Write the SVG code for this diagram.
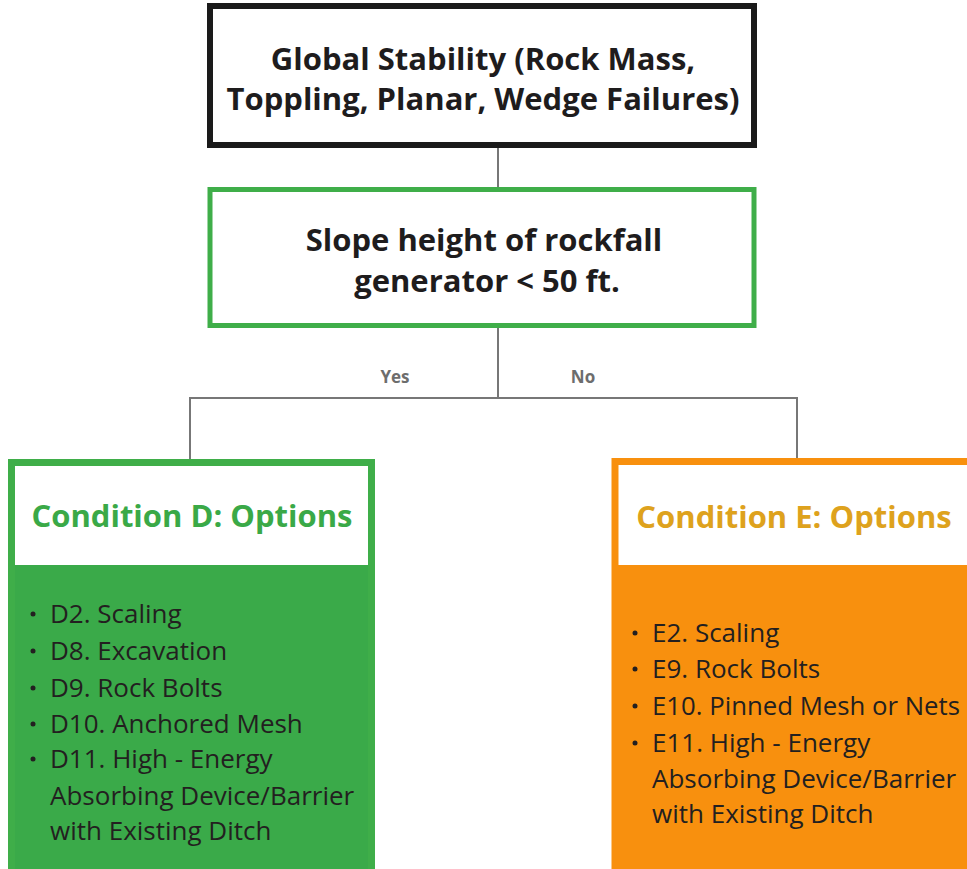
<svg xmlns="http://www.w3.org/2000/svg" width="967" height="869" viewBox="0 0 967 869">
<style>
.t{font-family:"Open Sans","Noto Sans","Liberation Sans",sans-serif;}
.title{font-weight:700;font-size:31px;fill:#1e1c1d;text-anchor:middle;}
.head{font-weight:700;font-size:31px;text-anchor:middle;}
.item{font-size:26px;fill:#231f20;}
.lab{font-weight:700;font-size:17px;fill:#6d6d6d;text-anchor:middle;}
.conn{stroke:#777;stroke-width:2;fill:none;}
</style>
<rect width="967" height="869" fill="#ffffff"/>
<g id="connectors">
<line class="conn" x1="498" y1="148" x2="498" y2="187"/>
<line class="conn" x1="498" y1="328" x2="498" y2="398"/>
<polyline class="conn" points="190,459 190,398 797,398 797,458"/>
<text class="t lab" x="395" y="383">Yes</text>
<text class="t lab" x="583" y="383">No</text>
</g>
<g id="global">
<rect x="210" y="6" width="544" height="139" fill="#fff" stroke="#1a1a1a" stroke-width="6"/>
<text class="t title" x="483" y="70">Global Stability (Rock Mass,</text>
<text class="t title" x="483" y="110">Toppling, Planar, Wedge Failures)</text>
</g>
<g id="slope">
<rect x="210" y="189.5" width="544" height="136" fill="#fff" stroke="#3fae49" stroke-width="5"/>
<text class="t title" x="484" y="251">Slope height of rockfall</text>
<text class="t title" x="487" y="292">generator &lt; 50 ft.</text>
</g>
<g id="conditionD">
<rect x="11.5" y="462.5" width="360" height="420" fill="#3aaa49" stroke="#3fae49" stroke-width="7"/>
<rect x="15" y="466" width="353" height="99" fill="#fff"/>
<text class="t head" x="192" y="527" fill="#3aa947">Condition D: Options</text>
<g class="t item">
<circle cx="33" cy="614" r="2.5" fill="#231f20"/>
<text x="50" y="623">D2. Scaling</text>
<circle cx="33" cy="651" r="2.5" fill="#231f20"/>
<text x="50" y="660">D8. Excavation</text>
<circle cx="33" cy="688" r="2.5" fill="#231f20"/>
<text x="50" y="697">D9. Rock Bolts</text>
<circle cx="33" cy="724" r="2.5" fill="#231f20"/>
<text x="50" y="733">D10. Anchored Mesh</text>
<circle cx="33" cy="759" r="2.5" fill="#231f20"/>
<text x="50" y="768">D11. High - Energy</text>
<text x="50" y="805">Absorbing Device/Barrier</text>
<text x="50" y="840">with Existing Ditch</text>
</g>
</g>
<g id="conditionE">
<rect x="615" y="461.5" width="370" height="420" fill="#f8900e" stroke="#f8900e" stroke-width="7"/>
<rect x="618.5" y="465" width="360" height="100" fill="#fff"/>
<text class="t head" x="794" y="528" fill="#dea21d">Condition E: Options</text>
<g class="t item">
<circle cx="635" cy="633" r="2.5" fill="#231f20"/>
<text x="652" y="642">E2. Scaling</text>
<circle cx="635" cy="669" r="2.5" fill="#231f20"/>
<text x="652" y="678">E9. Rock Bolts</text>
<circle cx="635" cy="706" r="2.5" fill="#231f20"/>
<text x="652" y="715" textLength="308" lengthAdjust="spacingAndGlyphs">E10. Pinned Mesh or Nets</text>
<circle cx="635" cy="743" r="2.5" fill="#231f20"/>
<text x="652" y="752">E11. High - Energy</text>
<text x="652" y="788">Absorbing Device/Barrier</text>
<text x="652" y="823">with Existing Ditch</text>
</g>
</g>
</svg>
